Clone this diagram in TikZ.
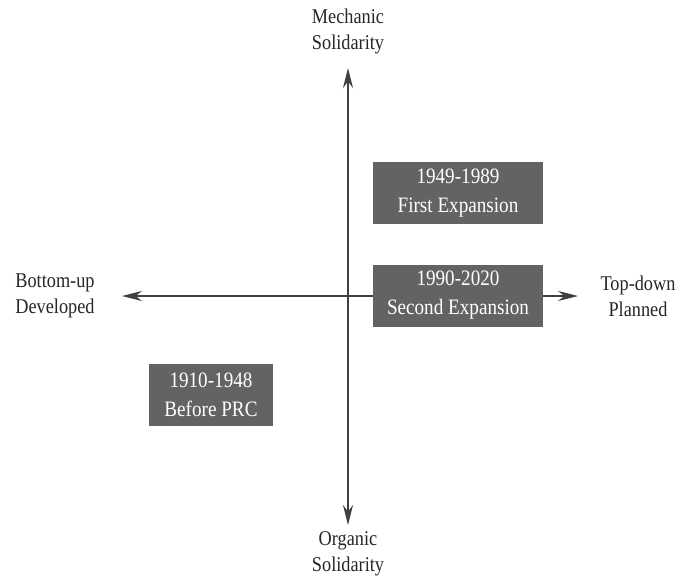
\documentclass[tikz,border=0pt]{standalone}
\usepackage{fontspec}
\setmainfont[FakeStretch=0.87]{Liberation Serif}
\definecolor{periodback}{RGB}{99,99,99}
\definecolor{axisline}{RGB}{64,64,64}
\usetikzlibrary{arrows.meta}

\begin{document}
\begin{tikzpicture}[x=1pt,y=-1pt,
  period/.style={fill=periodback,text=white,align=center,minimum width=170pt,minimum height=62pt,inner sep=0pt,font=\fontsize{22}{29}\selectfont},
  pole/.style={align=center,text=black!85,font=\fontsize{21}{26}\selectfont},
  axis/.style={axisline,line width=1.3pt,{Stealth[length=20pt,width=10pt]}-{Stealth[length=20pt,width=10pt]}}]
\useasboundingbox (0,0) rectangle (683,581);
% ends of the two axes
\coordinate (north) at (348,68);
\coordinate (south) at (348,525);
\coordinate (west) at (122,296);
\coordinate (east) at (578,296);
\draw[axis] (north) -- (south);
\draw[axis] (west) -- (east);
% poles
\node[pole] (mechanic) at (348,31) {Mechanic\\Solidarity};
\node[pole] (organic) at (348,554) {Organic\\Solidarity};
\node[pole] (bottomup) at (55,296) {Bottom-up\\Developed};
\node[pole] (topdown) at (638,296) {Top-down\\Planned};
% periods
\node[period] (first) at (458,193) {1949-1989\\First Expansion};
\node[period] (second) at (458,295.5) {1990-2020\\Second Expansion};
\node[period,minimum width=124pt] (before) at (211,395) {1910-1948\\Before PRC};
\end{tikzpicture}
\end{document}
